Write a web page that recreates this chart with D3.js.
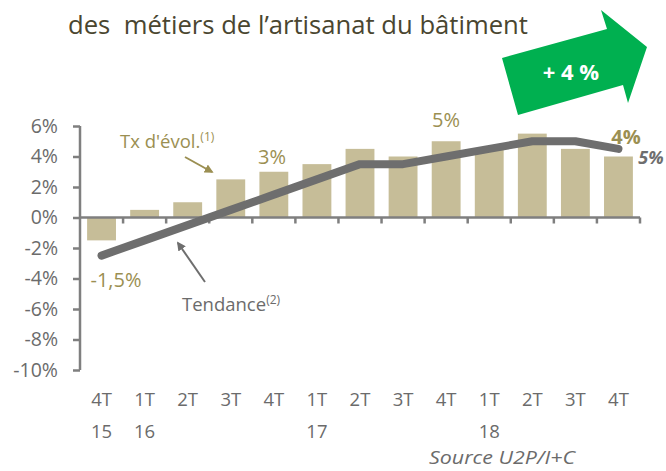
<!DOCTYPE html>
<html><head><meta charset="utf-8">
<script src="https://cdn.jsdelivr.net/npm/d3@7"></script>
<style>body{margin:0;background:#fff}svg{display:block}text{font-family:"Open Sans",sans-serif}</style>
</head><body>
<svg id="c" width="666" height="471"></svg>
<script>
const quarters = ["4T","1T","2T","3T","4T","1T","2T","3T","4T","1T","2T","3T","4T"];
const years    = ["15","16","","","","17","","","","18","","",""];
const evolution = [-1.5,0.5,1,2.5,3,3.5,4.5,4,5,4.5,5.5,4.5,4];
const tendance  = [-2.5,-1.5,-0.5,0.5,1.5,2.5,3.5,3.5,4,4.5,5,5,4.5];
const yTicks = [6,4,2,0,-2,-4,-6,-8,-10];
const title = "des  métiers de l’artisanat du bâtiment";

const svg = d3.select("#c");
const ids = quarters.map((q,i)=>i);
const x = d3.scaleBand().domain(ids).range([80,640]).paddingInner(0.33).paddingOuter(0.165);
const y = d3.scaleLinear().domain([-10,6]).range([370,126]);
const axisCol = "#7f7f7f", textCol = "#6b6b6b", olive = "#9b8f52", barCol = "#c6bd98";

// title
svg.append("text").attr("x",68).attr("y",34).attr("font-size",25).attr("fill","#4a4630")
  .style("white-space","pre").attr("xml:space","preserve")
  .attr("textLength",460).attr("lengthAdjust","spacingAndGlyphs").text(title);

// green arrow
const arrowPts = [[502,58],[607,29],[601,10],[647,47],[628,103],[623,85],[518,115]];
svg.append("polygon").attr("points",arrowPts.map(p=>p.join(",")).join(" ")).attr("fill","#00b050");
svg.append("text").attr("x",571).attr("y",80).attr("text-anchor","middle").attr("font-size",22)
  .attr("font-weight","bold").attr("fill","#fff").text("+ 4 %");

// bars
svg.append("g").selectAll("rect").data(evolution).join("rect")
  .attr("x",(d,i)=>x(i)).attr("width",x.bandwidth())
  .attr("y",d=>y(Math.max(0,d))).attr("height",d=>Math.abs(y(d)-y(0)))
  .attr("fill",barCol);

// y axis
const yAxis = d3.axisLeft(y).tickValues(yTicks).tickSize(7).tickPadding(15).tickFormat(d=>d+"%");
const gy = svg.append("g").attr("transform","translate(80,0)").call(yAxis);
gy.select(".domain").attr("stroke",axisCol).attr("stroke-width",2.5).attr("d","M0,"+y(6)+"V"+y(-10));
gy.selectAll(".tick line").attr("stroke",axisCol).attr("stroke-width",2.5);
gy.selectAll(".tick text").attr("fill",textCol).attr("font-size",19.5).attr("font-family","Open Sans");

// x axis line at 0
const step = x.step();
svg.append("line").attr("x1",80).attr("x2",640).attr("y1",y(0)).attr("y2",y(0))
  .attr("stroke",axisCol).attr("stroke-width",2.5);
svg.append("g").selectAll("line").data(ids).join("line")
  .attr("x1",(d,i)=>x(i)-x.step()*x.paddingInner()/2+step).attr("x2",(d,i)=>x(i)-x.step()*x.paddingInner()/2+step)
  .attr("y1",y(0)).attr("y2",y(0)+6).attr("stroke",axisCol).attr("stroke-width",2.5);

// x labels
const cx = i => x(i)+x.bandwidth()/2;
svg.append("g").selectAll("text").data(quarters).join("text")
  .attr("x",(d,i)=>cx(i)).attr("y",406).attr("text-anchor","middle").attr("font-size",18.5)
  .attr("fill",textCol).text(d=>d);
svg.append("g").selectAll("text").data(years).join("text")
  .attr("x",(d,i)=>cx(i)).attr("y",438).attr("text-anchor","middle").attr("font-size",18.5)
  .attr("fill",textCol).text(d=>d);

// trend line
svg.append("path").datum(tendance)
  .attr("d",d3.line().x((d,i)=>cx(i)).y(d=>y(d)))
  .attr("fill","none").attr("stroke","#6e6e6e").attr("stroke-width",8)
  .attr("stroke-linecap","round").attr("stroke-linejoin","round");

// value labels
const lab = (t,xx,yy,opt={})=>svg.append("text").attr("x",xx).attr("y",yy).attr("text-anchor",opt.anchor||"middle")
  .attr("font-size",opt.size||20).attr("fill",opt.fill||olive)
  .attr("font-weight",opt.weight||"normal").attr("font-style",opt.style||"normal").text(t);
lab("-1,5%",116,287);
lab("3%",272,164);
lab("5%",446,127);
lab("4%",626,144,{weight:"bold"});
lab("5%",651,164,{weight:"bold",style:"italic",fill:"#6e6e6e",size:18});

// annotation: Tx d'évol.
const tx = svg.append("text").attr("x",120).attr("y",148).attr("font-size",18.5).attr("fill",olive);
tx.append("tspan").text("Tx d'évol.");
tx.append("tspan").attr("font-size",12).attr("dy",-7).text("(1)");
const defs = svg.append("defs");
const mk = (id,col)=>defs.append("marker").attr("id",id).attr("viewBox","0 0 10 10").attr("refX",8).attr("refY",5)
  .attr("markerWidth",4.5).attr("markerHeight",4.5).attr("orient","auto")
  .append("path").attr("d","M0,0L10,5L0,10Z").attr("fill",col);
mk("ao",olive); mk("ag","#6e6e6e");
svg.append("line").attr("x1",185).attr("y1",157).attr("x2",212).attr("y2",172)
  .attr("stroke",olive).attr("stroke-width",2).attr("marker-end","url(#ao)");

// annotation: Tendance
const td = svg.append("text").attr("x",182).attr("y",311).attr("font-size",18.5).attr("fill",textCol);
td.append("tspan").text("Tendance");
td.append("tspan").attr("font-size",12).attr("dy",-7).text("(2)");
svg.append("line").attr("x1",205).attr("y1",282).attr("x2",178).attr("y2",243)
  .attr("stroke","#6e6e6e").attr("stroke-width",2).attr("marker-end","url(#ag)");

// source
svg.append("text").attr("x",429).attr("y",464).attr("font-size",18.5).attr("font-style","italic")
  .attr("textLength",146).attr("lengthAdjust","spacingAndGlyphs")
  .attr("fill",textCol).text("Source U2P/I+C");
</script>
</body></html>
